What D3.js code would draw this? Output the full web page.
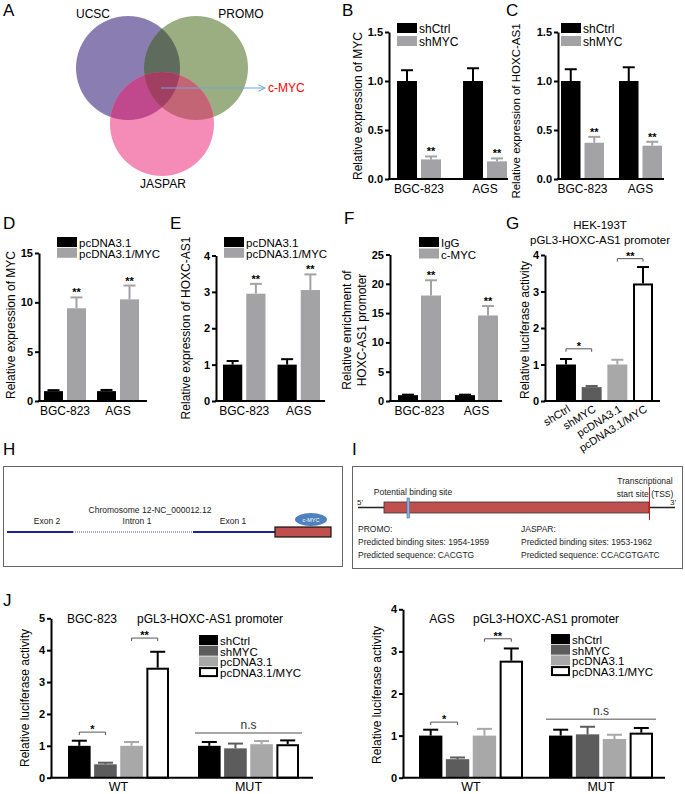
<!DOCTYPE html>
<html><head><meta charset="utf-8">
<script src="https://cdn.jsdelivr.net/npm/d3@7"></script>
<style>body{margin:0;background:#fff} svg{display:block}</style>
</head><body><svg id="fig" width="685" height="794"></svg>
<script>
// ---------------- DATA ----------------
const vennSets = ["UCSC", "PROMO", "JASPAR"];
const vennHit = "c-MYC";

const cellLines = ["BGC-823", "AGS"];
const knockSeries = ["shCtrl", "shMYC"];
const overSeries = ["pcDNA3.1", "pcDNA3.1/MYC"];
const chipSeries = ["IgG", "c-MYC"];
const lucSeries = ["shCtrl", "shMYC", "pcDNA3.1", "pcDNA3.1/MYC"];
const reporterTypes = ["WT", "MUT"];

// B: MYC expression after knockdown
const mycKdCtrl = [1.00, 1.00], mycKdCtrlErr = [0.11, 0.13];
const mycKdSh = [0.20, 0.18], mycKdShErr = [0.03, 0.03];
// C: HOXC-AS1 expression after knockdown
const hoxKdCtrl = [1.00, 1.00], hoxKdCtrlErr = [0.12, 0.14];
const hoxKdSh = [0.37, 0.34], hoxKdShErr = [0.06, 0.04];
// D: MYC expression after overexpression
const mycOeCtrl = [1.0, 1.0], mycOeCtrlErr = [0.1, 0.12];
const mycOeMyc = [9.4, 10.3], mycOeMycErr = [1.1, 1.4];
// E: HOXC-AS1 expression after overexpression
const hoxOeCtrl = [1.0, 1.0], hoxOeCtrlErr = [0.1, 0.15];
const hoxOeMyc = [2.95, 3.05], hoxOeMycErr = [0.27, 0.43];
// F: ChIP enrichment
const chipIgG = [1.0, 1.0], chipIgGErr = [0.08, 0.08];
const chipMyc = [18.0, 14.6], chipMycErr = [2.6, 1.6];
// G: HEK-193T luciferase
const hekLuc = [1.0, 0.38, 1.0, 3.22], hekLucErr = [0.15, 0.03, 0.13, 0.45];
// J: luciferase WT / MUT
const bgcWT = [1.0, 0.42, 1.0, 3.45], bgcWTErr = [0.16, 0.05, 0.12, 0.50];
const bgcMUT = [1.0, 0.92, 1.05, 1.05], bgcMUTErr = [0.12, 0.15, 0.10, 0.12];
const agsWT = [1.0, 0.44, 1.0, 2.78], agsWTErr = [0.14, 0.04, 0.16, 0.29];
const agsMUT = [1.0, 1.03, 0.92, 1.07], agsMUTErr = [0.14, 0.18, 0.10, 0.11];

// tick labels
const ticksB = [0, 0.5, 1.0, 1.5];
const ticksD = [0, 5, 10, 15];
const ticksE = [0, 1, 2, 3, 4];
const ticksF = [0, 5, 10, 15, 20, 25];
const ticksG = [0, 1, 2, 3, 4];
const ticksJ1 = [0, 1, 2, 3, 4, 5];
const ticksJ2 = [0, 1, 2, 3, 4];

// H / I annotation text
const geneParts = ["Exon 2", "Intron 1", "Exon 1"];
const promoLines = ["PROMO:", "Predicted binding sites: 1954-1959", "Predicted sequence: CACGTG"];
const jasparLines = ["JASPAR:", "Predicted binding sites: 1953-1962", "Predicted sequence: CCACGTGATC"];

// ---------------- DRAWING ----------------
const FONT = '"Liberation Sans", Arial, Helvetica, sans-serif';
const svg = d3.select("#fig").attr("font-family", FONT);
const GRAY = "#a3a3a6";
const lucColors = ["#000000", "#5c5c5c", "#a8a8a8", "#ffffff"];

function txt(x, y, s, opt = {}) {
  const t = svg.append("text").attr("x", x).attr("y", y).text(s)
    .attr("font-size", opt.size || 12).attr("fill", opt.fill || "#000")
    .attr("text-anchor", opt.anchor || "start");
  if (opt.weight) t.attr("font-weight", opt.weight);
  if (opt.rotate != null) t.attr("transform", `rotate(${opt.rotate},${x},${y})`);
  if (opt.baseline) t.attr("dominant-baseline", opt.baseline);
  return t;
}

function barPanel(o) {
  const g = svg.append("g");
  const y = d3.scaleLinear().domain(o.yDomain).range([o.y0, o.y1]);
  const n = o.groups.length;
  const span = o.bars[1] - o.bars[0];
  const bw = (span - (n - 1) * o.groupGap) / n;
  const x = d3.scaleBand().domain(o.groups).range(o.bars)
    .paddingInner(n > 1 ? o.groupGap / (bw + o.groupGap) : 0).paddingOuter(0);
  const m = o.series.length;
  const sbw = (x.bandwidth() - (m - 1) * o.barGap) / m;
  const xs = d3.scaleBand().domain(o.series).range([0, x.bandwidth()])
    .paddingInner(o.barGap / (sbw + o.barGap)).paddingOuter(0);

  const rows = [];
  o.series.forEach((s, si) => o.groups.forEach((grp, gi) =>
    rows.push({ s, si, grp, gi, v: o.values[si][gi], e: o.errs[si][gi] })));

  const cap = o.cap || 12;
  rows.forEach(d => {
    const bx = x(d.grp) + xs(d.s), w = xs.bandwidth(), cx = bx + w / 2;
    const fill = o.colors[d.si];
    const white = fill === "#ffffff";
    const ec = white ? "#000" : fill;
    const top = y(d.v + d.e);
    g.append("line").attr("x1", cx).attr("x2", cx).attr("y1", y(d.v)).attr("y2", top)
      .attr("stroke", ec).attr("stroke-width", 2);
    g.append("line").attr("x1", cx - cap / 2).attr("x2", cx + cap / 2).attr("y1", top).attr("y2", top)
      .attr("stroke", ec).attr("stroke-width", 2);
    const r = g.append("rect").attr("x", white ? bx + 1 : bx).attr("y", white ? y(d.v) + 1 : y(d.v))
      .attr("width", white ? w - 2 : w).attr("height", y(0) - y(d.v) - (white ? 1 : 0)).attr("fill", fill);
    if (white) r.attr("stroke", "#000").attr("stroke-width", 2);
    if (o.stars && o.stars[d.si] && o.stars[d.si][d.gi]) {
      g.append("text").attr("x", cx).attr("y", top - 1).attr("text-anchor", "middle")
        .attr("font-size", 11).attr("font-weight", "bold").text(o.stars[d.si][d.gi]);
    }
  });

  // axes
  const ax = g.append("g").attr("transform", `translate(${o.axisX},0)`)
    .call(d3.axisLeft(y).tickValues(o.ticks).tickFormat(o.fmt).tickSizeOuter(0).tickSizeInner(4).tickPadding(2));
  ax.attr("font-family", FONT).attr("font-size", 11).attr("font-weight", "bold");
  ax.select(".domain").attr("stroke-width", 2);
  ax.selectAll(".tick line").attr("stroke-width", 2);
  g.append("line").attr("x1", o.axisX - 1).attr("x2", o.axisEnd).attr("y1", y(0)).attr("y2", y(0))
    .attr("stroke", "#000").attr("stroke-width", 2);

  // group labels
  if (o.groupLabels !== false) {
    o.groups.forEach(grp => {
      g.append("text").attr("x", x(grp) + x.bandwidth() / 2).attr("y", y(0) + (o.labelDy || 14))
        .attr("text-anchor", "middle").attr("font-size", o.labelSize || 12).text(grp);
    });
  }
  if (o.rotLabels) {
    o.series.forEach(s => {
      const cx = x(o.groups[0]) + xs(s) + xs.bandwidth() / 2 + 5;
      const yy = y(0) + 10;
      g.append("text").attr("x", cx).attr("y", yy).attr("text-anchor", "end").attr("font-size", 11)
        .attr("transform", `rotate(-32,${cx},${yy})`).text(s);
    });
  }

  // brackets
  (o.brackets || []).forEach(b => {
    const x1 = x(o.groups[b.g]) + xs(o.series[b.a]) + xs.bandwidth() / 2;
    const x2 = x(o.groups[b.g]) + xs(o.series[b.b]) + xs.bandwidth() / 2;
    const yy = y(b.y);
    g.append("path").attr("d", `M${x1},${yy + 3}V${yy}H${x2}V${yy + 3}`).attr("fill", "none")
      .attr("stroke", "#555").attr("stroke-width", 1);
    g.append("text").attr("x", (x1 + x2) / 2).attr("y", yy + 1).attr("text-anchor", "middle")
      .attr("font-size", 11).attr("font-weight", "bold").text(b.label);
  });
  (o.nsLines || []).forEach(b => {
    const x1 = x(o.groups[b.g]) - 3, x2 = x(o.groups[b.g]) + x.bandwidth() + 3;
    const yy = y(b.y);
    g.append("line").attr("x1", x1).attr("x2", x2).attr("y1", yy).attr("y2", yy)
      .attr("stroke", "#8a8a8a").attr("stroke-width", 1.5);
    g.append("text").attr("x", (x1 + x2) / 2).attr("y", yy - 4).attr("text-anchor", "middle")
      .attr("font-size", 12).attr("fill", "#333").text(b.label);
  });

  // legend
  if (o.legend) {
    const L = o.legend;
    o.series.forEach((s, si) => {
      const yy = L.y + si * L.dy;
      const white = o.colors[si] === "#ffffff";
      const r = g.append("rect").attr("x", white ? L.x + 1 : L.x).attr("y", white ? yy + 1 : yy)
        .attr("width", white ? L.w - 2 : L.w).attr("height", white ? L.h - 2 : L.h).attr("fill", o.colors[si]);
      if (white) r.attr("stroke", "#000").attr("stroke-width", 2);
      g.append("text").attr("x", L.x + L.w + 2).attr("y", yy + L.h).attr("font-size", L.size || 12).text(s);
    });
  }
  return { x, y };
}

// ---------- Panel letters ----------
[["A", 3, 16], ["B", 342, 16], ["C", 506, 16], ["D", 3, 229], ["E", 170, 229], ["F", 344, 224],
 ["G", 506, 229], ["H", 3, 455], ["I", 352, 455], ["J", 3, 606]].forEach(([s, x, y]) =>
  txt(x, y, s, { size: 17 }));

// ---------- A: Venn ----------
(function () {
  const r = 52;
  const cs = [[128, 68], [196, 68], [162, 124]];
  const fills = ["#8a7db1", "#9aae82", "#f58bb7"];
  const defs = svg.append("defs");
  vennSets.forEach((s, i) => defs.append("clipPath").attr("id", "vc" + i)
    .append("circle").attr("cx", cs[i][0]).attr("cy", cs[i][1]).attr("r", r));
  const g = svg.append("g");
  vennSets.forEach((s, i) => g.append("circle").attr("cx", cs[i][0]).attr("cy", cs[i][1]).attr("r", r).attr("fill", fills[i]));
  g.append("circle").attr("cx", cs[1][0]).attr("cy", cs[1][1]).attr("r", r).attr("fill", "#5f6b5c").attr("clip-path", "url(#vc0)");
  g.append("circle").attr("cx", cs[2][0]).attr("cy", cs[2][1]).attr("r", r).attr("fill", "#c0488c").attr("clip-path", "url(#vc0)");
  g.append("circle").attr("cx", cs[2][0]).attr("cy", cs[2][1]).attr("r", r).attr("fill", "#c46575").attr("clip-path", "url(#vc1)");
  g.append("g").attr("clip-path", "url(#vc1)").append("circle").attr("cx", cs[2][0]).attr("cy", cs[2][1]).attr("r", r)
    .attr("fill", "#a13f62").attr("clip-path", "url(#vc0)");
  txt(93, 18, vennSets[0], { anchor: "middle" });
  txt(241, 18, vennSets[1], { anchor: "middle" });
  txt(163, 188, vennSets[2], { anchor: "middle" });
  defs.append("marker").attr("id", "arr").attr("viewBox", "0 0 10 10").attr("refX", 9).attr("refY", 5)
    .attr("markerWidth", 7).attr("markerHeight", 7).attr("orient", "auto")
    .append("path").attr("d", "M1,1L9,5L1,9").attr("fill", "none").attr("stroke", "#6fa8dc").attr("stroke-width", 1.2);
  g.append("line").attr("x1", 161).attr("x2", 265).attr("y1", 88).attr("y2", 88)
    .attr("stroke", "#6fa8dc").attr("stroke-width", 1.2).attr("marker-end", "url(#arr)");
  txt(268, 92, vennHit, { fill: "#ff0000" });
})();

// ---------- B ----------
barPanel({
  groups: cellLines, series: knockSeries, values: [mycKdCtrl, mycKdSh], errs: [mycKdCtrlErr, mycKdShErr],
  colors: ["#000000", GRAY], yDomain: [0, 1.5], y0: 179, y1: 32, ticks: ticksB, fmt: d3.format(".1f"),
  axisX: 389, axisEnd: 508, bars: [397, 507], groupGap: 22, barGap: 4,
  stars: [null, ["**", "**"]], legend: { x: 397, y: 23, dy: 13, w: 20, h: 10 }
});
txt(358, 106, "Relative expression of MYC", { anchor: "middle", rotate: -90, baseline: "central" });

// ---------- C ----------
barPanel({
  groups: cellLines, series: knockSeries, values: [hoxKdCtrl, hoxKdSh], errs: [hoxKdCtrlErr, hoxKdShErr],
  colors: ["#000000", GRAY], yDomain: [0, 1.5], y0: 179, y1: 32, ticks: ticksB, fmt: d3.format(".1f"),
  axisX: 558, axisEnd: 664, bars: [561, 662], groupGap: 15, barGap: 4,
  stars: [null, ["**", "**"]], legend: { x: 561, y: 23, dy: 13, w: 20, h: 10 }
});
txt(516, 111, "Relative expression of HOXC-AS1", { anchor: "middle", rotate: -90, baseline: "central", size: 11.5 });

// ---------- D ----------
barPanel({
  groups: cellLines, series: overSeries, values: [mycOeCtrl, mycOeMyc], errs: [mycOeCtrlErr, mycOeMycErr],
  colors: ["#000000", GRAY], yDomain: [0, 15], y0: 401, y1: 253, ticks: ticksD, fmt: d3.format("d"),
  axisX: 39, axisEnd: 147, bars: [44, 139], groupGap: 11, barGap: 4,
  stars: [null, ["**", "**"]], legend: { x: 57, y: 237, dy: 10.8, w: 20, h: 10, size: 11.5 }
});
txt(11, 325, "Relative expression of MYC", { anchor: "middle", rotate: -90, baseline: "central" });

// ---------- E ----------
barPanel({
  groups: cellLines, series: overSeries, values: [hoxOeCtrl, hoxOeMyc], errs: [hoxOeCtrlErr, hoxOeMycErr],
  colors: ["#000000", GRAY], yDomain: [0, 4], y0: 401, y1: 255.5, ticks: ticksE, fmt: d3.format("d"),
  axisX: 216, axisEnd: 325, bars: [223, 320], groupGap: 12, barGap: 4,
  stars: [null, ["**", "**"]], legend: { x: 224, y: 237, dy: 10.8, w: 20, h: 10, size: 11.5 }
});
txt(186, 328, "Relative expression of HOXC-AS1", { anchor: "middle", rotate: -90, baseline: "central" });

// ---------- F ----------
barPanel({
  groups: cellLines, series: chipSeries, values: [chipIgG, chipMyc], errs: [chipIgGErr, chipMycErr],
  colors: ["#000000", GRAY], yDomain: [0, 25], y0: 401, y1: 254.5, ticks: ticksF, fmt: d3.format("d"),
  axisX: 390, axisEnd: 502, bars: [398, 498], groupGap: 14, barGap: 3,
  stars: [null, ["**", "**"]], legend: { x: 419, y: 237, dy: 11.5, w: 20, h: 10, size: 11.5 }
});
txt(347, 330, "Relative enrichment of", { anchor: "middle", rotate: -90, baseline: "central" });
txt(362, 330, "HOXC-AS1 promoter", { anchor: "middle", rotate: -90, baseline: "central" });

// ---------- G ----------
barPanel({
  groups: ["HEK"], series: lucSeries, values: hekLuc.map(v => [v]), errs: hekLucErr.map(v => [v]),
  colors: lucColors, yDomain: [0, 4], y0: 401, y1: 255, ticks: ticksG, fmt: d3.format("d"),
  axisX: 545, axisEnd: 660, bars: [556, 653], groupGap: 0, barGap: 5.7, cap: 12,
  groupLabels: false, rotLabels: true,
  brackets: [{ g: 0, a: 0, b: 1, y: 1.43, label: "*" }, { g: 0, a: 2, b: 3, y: 3.9, label: "**" }]
});
txt(600, 229, "HEK-193T", { anchor: "middle", size: 11.5 });
txt(600, 244, "pGL3-HOXC-AS1 promoter", { anchor: "middle", size: 11.5 });
txt(525, 330, "Relative luciferase activity", { anchor: "middle", rotate: -90, baseline: "central" });

// ---------- H ----------
(function () {
  svg.append("rect").attr("x", 3.5).attr("y", 466.5).attr("width", 339).attr("height", 100)
    .attr("fill", "none").attr("stroke", "#666").attr("stroke-width", 1);
  txt(150, 513, "Chromosome 12-NC_000012.12", { anchor: "middle", size: 8.5, fill: "#222" });
  txt(47, 524, geneParts[0], { anchor: "middle", size: 8.5, fill: "#222" });
  txt(137, 524, geneParts[1], { anchor: "middle", size: 8.5, fill: "#222" });
  txt(233, 524, geneParts[2], { anchor: "middle", size: 8.5, fill: "#222" });
  svg.append("line").attr("x1", 7).attr("x2", 73).attr("y1", 532).attr("y2", 532).attr("stroke", "#1c2390").attr("stroke-width", 2);
  svg.append("line").attr("x1", 73).attr("x2", 193).attr("y1", 532).attr("y2", 532).attr("stroke", "#9da3dc")
    .attr("stroke-width", 2).attr("stroke-dasharray", "1,1");
  svg.append("line").attr("x1", 193).attr("x2", 275).attr("y1", 532).attr("y2", 532).attr("stroke", "#1c2390").attr("stroke-width", 2);
  svg.append("rect").attr("x", 275).attr("y", 527).attr("width", 56).attr("height", 10)
    .attr("fill", "#c0504d").attr("stroke", "#111").attr("stroke-width", 1.2);
  svg.append("ellipse").attr("cx", 311).attr("cy", 519.5).attr("rx", 16).attr("ry", 6.5).attr("fill", "#4f81bd");
  txt(311, 521.5, "c-MYC", { anchor: "middle", size: 5.5, fill: "#fff" });
})();

// ---------- I ----------
(function () {
  svg.append("rect").attr("x", 352.5).attr("y", 466.5).attr("width", 330).attr("height", 102)
    .attr("fill", "none").attr("stroke", "#666").attr("stroke-width", 1);
  txt(645, 484, "Transcriptional", { anchor: "middle", size: 8.5, fill: "#222" });
  txt(645, 497, "start site (TSS)", { anchor: "middle", size: 8.5, fill: "#222" });
  txt(413, 495, "Potential binding site", { anchor: "middle", size: 8.5, fill: "#222" });
  txt(357, 505, "5'", { size: 8, fill: "#222" });
  txt(670, 505, "3'", { size: 8, fill: "#222" });
  svg.append("line").attr("x1", 358).attr("x2", 675).attr("y1", 507.5).attr("y2", 507.5).attr("stroke", "#222").attr("stroke-width", 1.5);
  svg.append("rect").attr("x", 384).attr("y", 502).attr("width", 265).attr("height", 11)
    .attr("fill", "#c0504d").attr("stroke", "#333").attr("stroke-width", 0.8);
  svg.append("rect").attr("x", 407).attr("y", 498).attr("width", 2.5).attr("height", 20)
    .attr("fill", "#8db3e2").attr("stroke", "#4a6f9f").attr("stroke-width", 0.6);
  svg.append("line").attr("x1", 649.5).attr("x2", 649.5).attr("y1", 487).attr("y2", 520).attr("stroke", "#ff0000").attr("stroke-width", 1);
  promoLines.forEach((s, i) => txt(358, 532 + i * 12.8, s, { size: 8.5, fill: "#222" }));
  jasparLines.forEach((s, i) => txt(521, 532 + i * 12.8, s, { size: 8.5, fill: "#222" }));
})();

// ---------- J left ----------
barPanel({
  groups: reporterTypes, series: lucSeries,
  values: lucSeries.map((s, i) => [bgcWT[i], bgcMUT[i]]), errs: lucSeries.map((s, i) => [bgcWTErr[i], bgcMUTErr[i]]),
  colors: lucColors, yDomain: [0, 5], y0: 777.7, y1: 618.3, ticks: ticksJ1, fmt: d3.format("d"),
  axisX: 51, axisEnd: 313, bars: [68, 299], groupGap: 29, barGap: 3.5, cap: 15, labelDy: 13, labelSize: 12.5,
  brackets: [{ g: 0, a: 0, b: 1, y: 1.43, label: "*" }, { g: 0, a: 2, b: 3, y: 4.38, label: "**" }],
  nsLines: [{ g: 1, y: 1.40, label: "n.s" }],
  legend: { x: 199, y: 635, dy: 10.7, w: 19, h: 10, size: 11.5 }
});
txt(92, 623, "BGC-823", { anchor: "middle", size: 12 });
txt(137, 623, "pGL3-HOXC-AS1 promoter", { size: 12 });
txt(25, 698, "Relative luciferase activity", { anchor: "middle", rotate: -90, baseline: "central" });

// ---------- J right ----------
barPanel({
  groups: reporterTypes, series: lucSeries,
  values: lucSeries.map((s, i) => [agsWT[i], agsMUT[i]]), errs: lucSeries.map((s, i) => [agsWTErr[i], agsMUTErr[i]]),
  colors: lucColors, yDomain: [0, 4], y0: 777.7, y1: 609.3, ticks: ticksJ2, fmt: d3.format("d"),
  axisX: 403, axisEnd: 665, bars: [419, 653], groupGap: 26, barGap: 3.5, cap: 15, labelDy: 13, labelSize: 12.5,
  brackets: [{ g: 0, a: 0, b: 1, y: 1.32, label: "*" }, { g: 0, a: 2, b: 3, y: 3.3, label: "**" }],
  nsLines: [{ g: 1, y: 1.39, label: "n.s" }],
  legend: { x: 551, y: 634, dy: 10.7, w: 19, h: 10, size: 11.5 }
});
txt(442, 623, "AGS", { anchor: "middle", size: 12 });
txt(473, 623, "pGL3-HOXC-AS1 promoter", { size: 12 });
txt(377, 695, "Relative luciferase activity", { anchor: "middle", rotate: -90, baseline: "central" });
</script>
</body></html>
